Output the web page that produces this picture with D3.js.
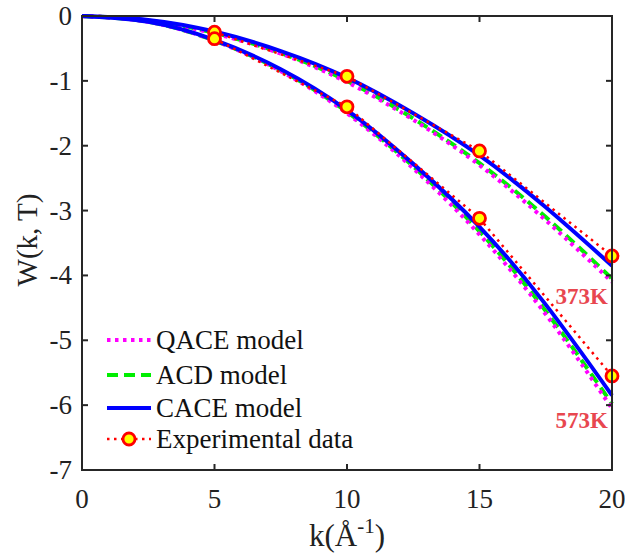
<!DOCTYPE html>
<html>
<head>
<meta charset="UTF-8">
<script src="https://d3js.org/d3.v7.min.js"></script>
<style>
  body { margin: 0; background: #fff; }
  text { font-family: "Liberation Serif", "Times New Roman", serif; }
</style>
</head>
<body>
<svg></svg>
<script>
  // data
  const kModel = [0, 2.5, 5, 7.5, 10, 12.5, 15, 17.5, 20]
  const qace373 = [0, -0.07, -0.27, -0.58, -1.02, -1.6, -2.3, -3.15, -4.1]
  const acd373 = [0, -0.07, -0.26, -0.57, -1.0, -1.58, -2.27, -3.1, -4.05]
  const cace373 = [0, -0.06, -0.24, -0.54, -0.95, -1.5, -2.15, -2.95, -3.85]
  const qace573 = [0, -0.09, -0.38, -0.85, -1.5, -2.35, -3.37, -4.6, -6.05]
  const acd573 = [0, -0.09, -0.38, -0.84, -1.48, -2.32, -3.32, -4.55, -5.98]
  const cace573 = [0, -0.09, -0.37, -0.82, -1.45, -2.28, -3.25, -4.45, -5.85]
  const kExp = [5, 10, 15, 20]
  const exp373 = [-0.25, -0.93, -2.08, -3.7]
  const exp573 = [-0.35, -1.4, -3.12, -5.55]
  const xTicks = [0, 5, 10, 15, 20]
  const yTicks = [0, -1, -2, -3, -4, -5, -6, -7]
  const legendNames = ['QACE model', 'ACD model', 'CACE model', 'Experimental data']

  const width = 625
  const height = 555
  const mLeft = 82, mRight = 612, mTop = 16, mBottom = 470

  const svg = d3.select('svg').attr('width', width).attr('height', height)

  const x = d3.scaleLinear().domain([0, 20]).range([mLeft, mRight])
  const y = d3.scaleLinear().domain([0, -7]).range([mTop, mBottom])

  const line = d3.line()
    .x(d => x(d[0]))
    .y(d => y(d[1]))
    .curve(d3.curveNatural)

  const styles = {
    qace: { stroke: '#ff00ff', width: 4, dash: '3.5,4.5' },
    acd: { stroke: '#00ee00', width: 4, dash: '11,6' },
    cace: { stroke: '#0000ff', width: 4, dash: null },
    exp: { stroke: '#ff0000', width: 2.5, dash: '2.5,4.5' }
  }

  const series = [
    { vals: acd373, s: styles.acd },
    { vals: acd573, s: styles.acd },
    { vals: qace373, s: styles.qace },
    { vals: qace573, s: styles.qace },
    { vals: cace373, s: styles.cace },
    { vals: cace573, s: styles.cace }
  ]

  const plot = svg.append('g')

  series.forEach(function (se) {
    plot.append('path')
      .datum(kModel.map((k, i) => [k, se.vals[i]]))
      .attr('d', line)
      .attr('fill', 'none')
      .attr('stroke', se.s.stroke)
      .attr('stroke-width', se.s.width)
      .attr('stroke-dasharray', se.s.dash)
  })

  // experimental data
  const linear = d3.line().x(d => x(d[0])).y(d => y(d[1]))
  ;[exp373, exp573].forEach(function (vals) {
    const pts = kExp.map((k, i) => [k, vals[i]])
    plot.append('path')
      .datum(pts)
      .attr('d', linear)
      .attr('fill', 'none')
      .attr('stroke', styles.exp.stroke)
      .attr('stroke-width', styles.exp.width)
      .attr('stroke-dasharray', styles.exp.dash)
    plot.selectAll(null)
      .data(pts)
      .join('circle')
      .attr('cx', d => x(d[0]))
      .attr('cy', d => y(d[1]))
      .attr('r', 6)
      .attr('fill', '#ffff00')
      .attr('stroke', '#ff0000')
      .attr('stroke-width', 2.8)
  })

  // frame and ticks
  const axisColor = '#262626'
  const frame = svg.append('g')
  frame.append('rect')
    .attr('x', mLeft).attr('y', mTop)
    .attr('width', mRight - mLeft).attr('height', mBottom - mTop)
    .attr('fill', 'none').attr('stroke', axisColor).attr('stroke-width', 2)

  xTicks.forEach(function (t) {
    frame.append('line').attr('x1', x(t)).attr('x2', x(t))
      .attr('y1', mBottom).attr('y2', mBottom - 6)
      .attr('stroke', axisColor).attr('stroke-width', 2)
    frame.append('line').attr('x1', x(t)).attr('x2', x(t))
      .attr('y1', mTop).attr('y2', mTop + 6)
      .attr('stroke', axisColor).attr('stroke-width', 2)
    frame.append('text')
      .attr('x', x(t)).attr('y', mBottom + 38)
      .attr('text-anchor', 'middle')
      .attr('font-size', 27)
      .attr('fill', '#222')
      .text(t)
  })

  yTicks.forEach(function (t) {
    frame.append('line').attr('x1', mLeft).attr('x2', mLeft + 6)
      .attr('y1', y(t)).attr('y2', y(t))
      .attr('stroke', axisColor).attr('stroke-width', 2)
    frame.append('line').attr('x1', mRight).attr('x2', mRight - 6)
      .attr('y1', y(t)).attr('y2', y(t))
      .attr('stroke', axisColor).attr('stroke-width', 2)
    frame.append('text')
      .attr('x', mLeft - 10).attr('y', y(t) + 9)
      .attr('text-anchor', 'end')
      .attr('font-size', 27)
      .attr('fill', '#222')
      .text(t)
  })

  // axis titles
  svg.append('text')
    .attr('transform', `translate(37,${(mTop + mBottom) / 2 - 3}) rotate(-90)`)
    .attr('text-anchor', 'middle')
    .attr('font-size', 29)
    .attr('fill', '#222')
    .text('W(k, T)')

  const xl = svg.append('text')
    .attr('x', (mLeft + mRight) / 2).attr('y', 546)
    .attr('text-anchor', 'middle')
    .attr('font-size', 31)
    .attr('fill', '#222')
  xl.append('tspan').text('k(Å')
  xl.append('tspan').attr('font-size', 21).attr('dy', -13).text('-1')
  xl.append('tspan').attr('dy', 13).text(')')

  // temperature labels
  svg.append('text').attr('x', 608).attr('y', 304)
    .attr('text-anchor', 'end').attr('font-size', 23).attr('font-weight', 'bold')
    .attr('fill', '#e8474f').text('373K')
  svg.append('text').attr('x', 608).attr('y', 428)
    .attr('text-anchor', 'end').attr('font-size', 23).attr('font-weight', 'bold')
    .attr('fill', '#e8474f').text('573K')

  // legend
  const legendStyles = [styles.qace, styles.acd, styles.cace, styles.exp]
  const legendY = [340, 375, 408, 439]
  legendNames.forEach(function (name, i) {
    const s = legendStyles[i]
    const ly = legendY[i]
    svg.append('line')
      .attr('x1', 107).attr('x2', 151)
      .attr('y1', ly).attr('y2', ly)
      .attr('stroke', s.stroke).attr('stroke-width', s.width)
      .attr('stroke-dasharray', s.dash)
    if (i === 3) {
      svg.append('circle').attr('cx', 129).attr('cy', ly).attr('r', 6)
        .attr('fill', '#ffff00').attr('stroke', '#ff0000').attr('stroke-width', 2.8)
    }
    svg.append('text')
      .attr('x', 156).attr('y', ly + 9)
      .attr('font-size', 27)
      .attr('fill', '#111')
      .text(name)
  })
</script>
</body>
</html>
